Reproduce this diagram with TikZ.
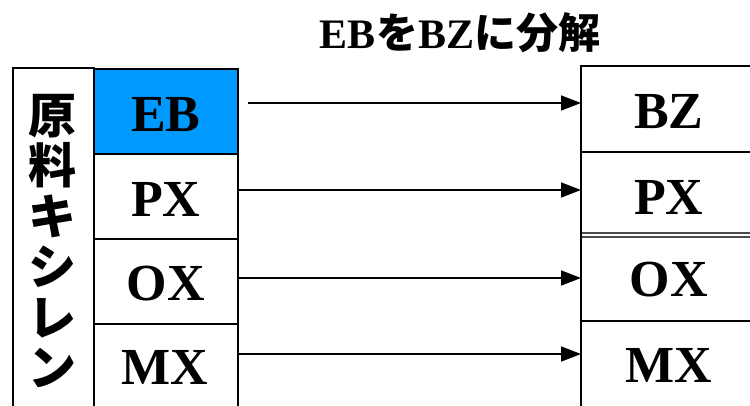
\documentclass[tikz,border=0pt]{standalone}
\usepackage{fontspec}
\setmainfont{Liberation Serif}
\newfontfamily\jp{Noto Sans CJK JP}
\usetikzlibrary{arrows.meta}
\definecolor{ebblue}{HTML}{0099FF}
\tikzset{
  cell/.style={draw=black, line width=1.6pt, minimum width=144pt, minimum height=85pt, inner sep=0pt, font=\fontsize{52}{52}\selectfont\bfseries},
  rcell/.style={minimum width=175pt, minimum height=85pt, inner sep=0pt, anchor=west, font=\fontsize{52}{52}\selectfont\bfseries},
  rule/.style={line width=1.6pt},
  flow/.style={line width=1.6pt, -{Triangle[length=20pt,width=15pt]}},
}
\begin{document}
\begin{tikzpicture}[x=1pt,y=-1pt]
\useasboundingbox (0,0) rectangle (750,405);
\clip (0,0) rectangle (750,405);
% title
\node[font=\fontsize{42}{42}\selectfont\bfseries] (title) at (460,33) {EB{\jp を}BZ{\jp に分解}};
% left outer column
\node[draw=black, line width=1.6pt, minimum width=81pt, minimum height=360pt, anchor=north west, inner sep=0pt] (col) at (12,67) {};
\node[font=\jp\fontsize{48}{50.5}\selectfont\bfseries, align=center, inner sep=0pt] (feed) at (52,241) {原\\料\\キ\\シ\\レ\\ン};
% left cells
\node[cell, fill=ebblue, anchor=north west] (eb) at (93,68) {};
\node at (eb.center) [yshift=-3pt, font=\fontsize{52}{52}\selectfont\bfseries] (ebt) {EB};
\node[cell, anchor=north west] (px) at (93,153) {};
\node at (px.center) [yshift=-3pt, font=\fontsize{52}{52}\selectfont\bfseries] (pxt) {PX};
\node[cell, anchor=north west] (ox) at (93,238) {};
\node at (ox.center) [yshift=-2pt, font=\fontsize{52}{52}\selectfont\bfseries] (oxt) {OX};
\node[cell, anchor=north west, minimum height=95pt] (mx) at (93,323) {};
\node at (165,367) [font=\fontsize{52}{52}\selectfont\bfseries] (mxt) {MX};
% right cells
\node[rcell] (bz) at (581,112) {BZ};
\node[rcell] (px2) at (581,197) {PX};
\node[rcell] (ox2) at (581,280) {OX};
\node[rcell] (mx2) at (581,365) {MX};
% right grid lines
\draw[rule] (581,66) -- (760,66);
\draw[rule] (581,152) -- (760,152);
\draw[line width=1.2pt, black!70] (581,233) -- (760,233);
\draw[line width=1.2pt, black!70] (581,237) -- (760,237);
\draw[rule] (581,321) -- (760,321);
\draw[rule] (581,65.2) -- (581,410);
% arrows
\draw[flow] ([xshift=9pt]eb.east |- 0,103) -- (bz.west |- 0,103);
\draw[flow] (px.east |- 0,190) -- (px2.west |- 0,190);
\draw[flow] (ox.east |- 0,278) -- (ox2.west |- 0,278);
\draw[flow] (mx.east |- 0,354) -- (mx2.west |- 0,354);
\end{tikzpicture}
\end{document}
